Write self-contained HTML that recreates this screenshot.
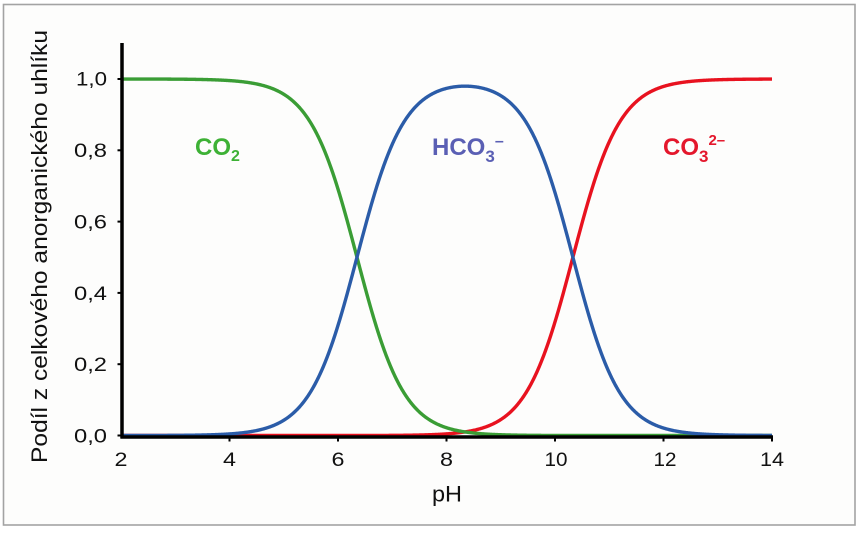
<!DOCTYPE html>
<html>
<head>
<meta charset="utf-8">
<style>
  html,body{margin:0;padding:0;background:#ffffff;}
  svg{display:block;}
  text{font-family:"Liberation Sans", Arial, Helvetica, sans-serif;}
</style>
</head>
<body>
<svg id="chart" width="860" height="533" viewBox="0 0 860 533" xmlns="http://www.w3.org/2000/svg">
  <rect x="0" y="0" width="860" height="533" fill="#ffffff"/>
  <rect x="3.5" y="4.5" width="851.5" height="520.5" fill="#fdfdfc" stroke="#a3a3a3" stroke-width="1.6"/>

  <!-- curves -->
  <g fill="none" stroke-width="3.4" stroke-linejoin="round" stroke-linecap="butt">
    <path id="red" stroke="#e8121f" d=""/>
    <path id="green" stroke="#3a9d35" d=""/>
    <path id="blue" stroke="#2b5ca8" d=""/>
  </g>

  <!-- axes -->
  <g stroke="#000" fill="none">
    <line x1="122" y1="43" x2="122" y2="438.5" stroke-width="3.5"/>
    <line x1="120.5" y1="437" x2="773" y2="437" stroke-width="3.5"/>
  </g>
  <g stroke="#000" stroke-width="2" id="ticks"></g>

  <!-- y tick labels -->
  <g font-size="19" fill="#111" text-anchor="end">
    <text x="107" y="85.5" textLength="31" lengthAdjust="spacingAndGlyphs">1,0</text>
    <text x="107" y="157" textLength="33" lengthAdjust="spacingAndGlyphs">0,8</text>
    <text x="107" y="228.5" textLength="33" lengthAdjust="spacingAndGlyphs">0,6</text>
    <text x="107" y="300" textLength="33" lengthAdjust="spacingAndGlyphs">0,4</text>
    <text x="107" y="371" textLength="33" lengthAdjust="spacingAndGlyphs">0,2</text>
    <text x="107" y="442.5" textLength="33" lengthAdjust="spacingAndGlyphs">0,0</text>
  </g>

  <!-- x tick labels -->
  <g font-size="19" fill="#111" text-anchor="middle">
    <text x="121" y="466" textLength="13" lengthAdjust="spacingAndGlyphs">2</text>
    <text x="229.5" y="466" textLength="13" lengthAdjust="spacingAndGlyphs">4</text>
    <text x="338" y="466" textLength="13" lengthAdjust="spacingAndGlyphs">6</text>
    <text x="446.5" y="466" textLength="13" lengthAdjust="spacingAndGlyphs">8</text>
    <text x="556" y="466" textLength="23" lengthAdjust="spacingAndGlyphs">10</text>
    <text x="665" y="466" textLength="23" lengthAdjust="spacingAndGlyphs">12</text>
    <text x="772" y="466" textLength="24" lengthAdjust="spacingAndGlyphs">14</text>
  </g>

  <text x="447" y="501.5" font-size="22.5" fill="#111" text-anchor="middle" textLength="30" lengthAdjust="spacingAndGlyphs">pH</text>

  <text transform="translate(47,246.5) rotate(-90)" font-size="22.5" fill="#111" text-anchor="middle" textLength="433" lengthAdjust="spacingAndGlyphs">Podíl z celkového anorganického uhlíku</text>

  <!-- series labels -->
  <text x="195" y="155" font-size="24" font-weight="bold" fill="#3db135">CO<tspan font-size="16" dy="6">2</tspan></text>
  <text x="432" y="155" font-size="24" font-weight="bold" fill="#5a5fb4">HCO<tspan font-size="17" dy="7">3</tspan><tspan font-size="16" dy="-16">–</tspan></text>
  <text x="663" y="155" font-size="24" font-weight="bold" fill="#e4172c">CO<tspan font-size="17" dy="7">3</tspan><tspan font-size="15" dy="-17">2–</tspan></text>
</svg>
<script>
(function(){
  var K1=Math.pow(10,-6.35), K2=Math.pow(10,-10.33);
  function X(p){return 121+(p-2)*54.25;}
  function Y(f){return 435.5-f*356.5;}
  var r=[],g=[],b=[];
  for(var i=0;i<=1200;i++){
    var p=2+i*0.01;
    var h=Math.pow(10,-p);
    var D=h*h+h*K1+K1*K2;
    var x=X(p).toFixed(2);
    g.push((i?'L':'M')+x+','+Y(h*h/D).toFixed(2));
    b.push((i?'L':'M')+x+','+Y(h*K1/D).toFixed(2));
    r.push((i?'L':'M')+x+','+Y(K1*K2/D).toFixed(2));
  }
  document.getElementById('red').setAttribute('d',r.join(''));
  document.getElementById('green').setAttribute('d',g.join(''));
  document.getElementById('blue').setAttribute('d',b.join(''));
  var t=document.getElementById('ticks'), ns='http://www.w3.org/2000/svg';
  for(var v=0;v<=5;v++){
    var y=Y(v*0.2);
    var l=document.createElementNS(ns,'line');
    l.setAttribute('x1',117.5);l.setAttribute('x2',121);l.setAttribute('y1',y);l.setAttribute('y2',y);
    t.appendChild(l);
  }
  for(var k=1;k<=6;k++){
    var x=X(2+2*k);
    var l2=document.createElementNS(ns,'line');
    l2.setAttribute('x1',x);l2.setAttribute('x2',x);l2.setAttribute('y1',437);l2.setAttribute('y2',441.5);
    t.appendChild(l2);
  }
})();
</script>
</body>
</html>
